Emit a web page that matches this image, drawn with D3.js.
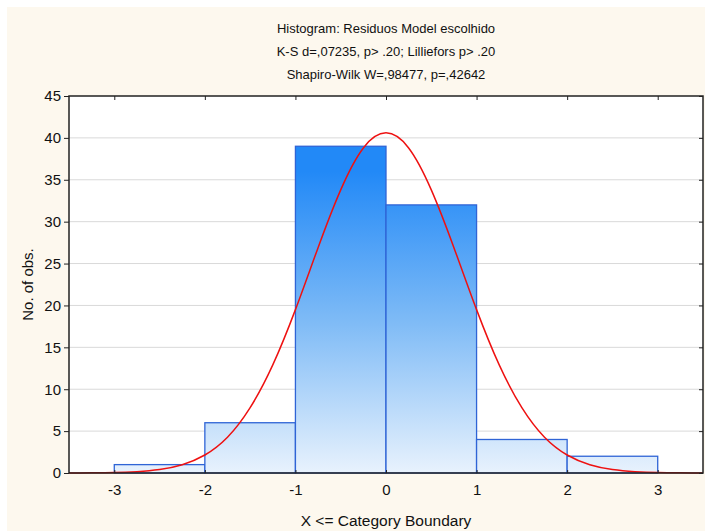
<!DOCTYPE html>
<html>
<head>
<meta charset="utf-8">
<script src="https://cdn.jsdelivr.net/npm/d3@7"></script>
<style>
  body { margin: 0; background: #fff; }
  svg text { font-family: "Liberation Sans", Arial, sans-serif; fill: #111; }
</style>
</head>
<body>
<svg id="chart" width="705" height="531"></svg>
<script>
// histogram bins (lower, upper boundary) and counts
var binLower = [-3, -2, -1, 0, 1, 2];
var binUpper = [-2, -1, 0, 1, 2, 3];
var counts = [1, 6, 39, 32, 4, 2];

// expected normal curve
var curveX = [-3.5, -3.25, -3, -2.75, -2.5, -2.25, -2, -1.75, -1.5, -1.25, -1, -0.75, -0.5, -0.25, 0,
              0.25, 0.5, 0.75, 1, 1.25, 1.5, 1.75, 2, 2.25, 2.5, 2.75, 3, 3.25, 3.5];
var curveY = [0.005, 0.02, 0.05, 0.16, 0.41, 0.99, 2.15, 4.27, 7.8, 12.9, 19.5, 26.9, 33.8, 38.8, 40.6,
              38.8, 33.8, 26.9, 19.5, 12.9, 7.8, 4.27, 2.15, 0.99, 0.41, 0.16, 0.05, 0.02, 0.005];

var xTicks = [-3, -2, -1, 0, 1, 2, 3];
var yTicks = [0, 5, 10, 15, 20, 25, 30, 35, 40, 45];

var titleLines = [
  "Histogram: Residuos Model escolhido",
  "K-S d=,07235, p> .20; Lilliefors p> .20",
  "Shapiro-Wilk W=,98477, p=,42642"
];
var xLabel = "X <= Category Boundary";
var yLabel = "No. of obs.";

(function() {
var svg = d3.select("#chart");
var pLeft = 69, pRight = 703, pTop = 96, pBottom = 473;

svg.append("rect")
  .attr("x", 7).attr("y", 7).attr("width", 698).attr("height", 524)
  .attr("fill", "#fdf8ee");

var x = d3.scaleLinear().domain([-3.5, 3.5]).range([pLeft, pRight]);
var y = d3.scaleLinear().domain([0, 45]).range([pBottom, pTop]);

var defs = svg.append("defs");
var grad = defs.append("linearGradient")
  .attr("id", "barFill")
  .attr("gradientUnits", "userSpaceOnUse")
  .attr("x1", 0).attr("x2", 0)
  .attr("y1", y(36)).attr("y2", y(0));
grad.append("stop").attr("offset", "0%").attr("stop-color", "#2289f7");
grad.append("stop").attr("offset", "50%").attr("stop-color", "#7fbbf6");
grad.append("stop").attr("offset", "100%").attr("stop-color", "#e8f2fd");

// plot background
svg.append("rect")
  .attr("x", pLeft).attr("y", pTop)
  .attr("width", pRight - pLeft).attr("height", pBottom - pTop)
  .attr("fill", "#fff");

// gridlines
svg.append("g")
  .selectAll("line")
  .data(yTicks.slice(1, -1))
  .enter().append("line")
  .attr("x1", pLeft).attr("x2", pRight)
  .attr("y1", function(d) { return y(d); })
  .attr("y2", function(d) { return y(d); })
  .attr("stroke", "#d9d9d9")
  .attr("stroke-width", 1);

// bars
svg.append("g")
  .selectAll("rect")
  .data(counts)
  .enter().append("rect")
  .attr("x", function(d, i) { return x(binLower[i]); })
  .attr("width", function(d, i) { return x(binUpper[i]) - x(binLower[i]); })
  .attr("y", function(d) { return y(d); })
  .attr("height", function(d) { return y(0) - y(d); })
  .attr("fill", "url(#barFill)")
  .attr("stroke", "#2f64d6")
  .attr("stroke-width", 1.3);

// normal curve
var line = d3.line()
  .x(function(d, i) { return x(curveX[i]); })
  .y(function(d) { return y(d); })
  .curve(d3.curveNatural);

svg.append("path")
  .datum(curveY)
  .attr("d", line)
  .attr("fill", "none")
  .attr("stroke", "#ee1111")
  .attr("stroke-width", 1.5);

// frame
svg.append("rect")
  .attr("x", pLeft).attr("y", pTop)
  .attr("width", pRight - pLeft).attr("height", pBottom - pTop)
  .attr("fill", "none")
  .attr("stroke", "#222")
  .attr("stroke-width", 1.5);

var fmt = function(d) { return String(d); };

// axes
var yAxis = d3.axisLeft(y).tickValues(yTicks).tickSize(5).tickPadding(3).tickFormat(fmt);
var yg = svg.append("g").attr("transform", "translate(" + pLeft + ",0)").call(yAxis);
yg.select(".domain").remove();
yg.selectAll("line").attr("stroke", "#222");
yg.selectAll("text").style("font-size", "15px").attr("fill", "#111");

var yRight = d3.axisRight(y).tickValues(yTicks).tickSize(-4).tickFormat("");
var yrg = svg.append("g").attr("transform", "translate(" + pRight + ",0)").call(yRight);
yrg.select(".domain").remove();
yrg.selectAll("line").attr("stroke", "#222");

var xAxis = d3.axisBottom(x).tickValues(xTicks).tickSize(-3).tickPadding(11).tickFormat(fmt);
var xg = svg.append("g").attr("transform", "translate(0," + pBottom + ")").call(xAxis);
xg.select(".domain").remove();
xg.selectAll("line").attr("stroke", "#222");
xg.selectAll("text").style("font-size", "15px").attr("fill", "#111");

var xTop = d3.axisTop(x).tickValues(xTicks).tickSize(-4).tickFormat("");
var xtg = svg.append("g").attr("transform", "translate(0," + pTop + ")").call(xTop);
xtg.select(".domain").remove();
xtg.selectAll("line").attr("stroke", "#222");

// titles
svg.append("g")
  .selectAll("text")
  .data(titleLines)
  .enter().append("text")
  .attr("x", (pLeft + pRight) / 2)
  .attr("y", function(d, i) { return 33 + i * 23; })
  .attr("text-anchor", "middle")
  .style("font-size", "13px")
  .text(function(d) { return d; });

svg.append("text")
  .attr("x", (pLeft + pRight) / 2)
  .attr("y", 526)
  .attr("text-anchor", "middle")
  .style("font-size", "15.5px")
  .text(xLabel);

svg.append("text")
  .attr("transform", "translate(33," + ((pTop + pBottom) / 2) + ") rotate(-90)")
  .attr("text-anchor", "middle")
  .style("font-size", "15px")
  .text(yLabel);
})();
</script>
</body>
</html>
